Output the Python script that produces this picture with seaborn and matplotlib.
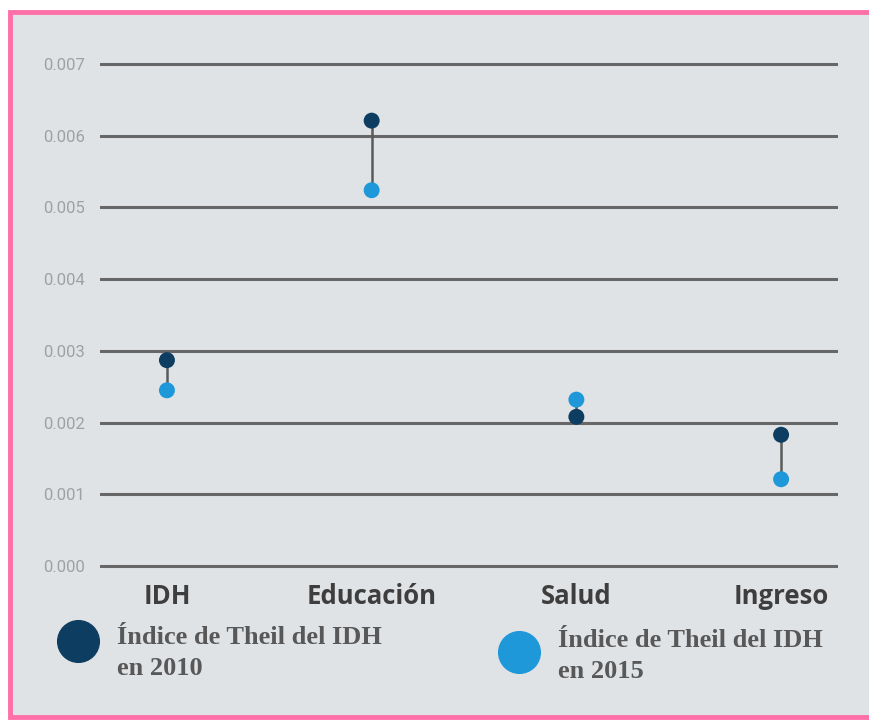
import numpy as np
import pandas as pd
import seaborn as sns
from matplotlib import pyplot as plt
from matplotlib.lines import Line2D
from matplotlib.patches import Rectangle

# data
categorias = ["IDH", "Educación", "Salud", "Ingreso"]
theil_2010 = [0.00287, 0.00621, 0.00208, 0.00183]
theil_2015 = [0.00245, 0.00524, 0.00232, 0.00121]
yticks = [0.000, 0.001, 0.002, 0.003, 0.004, 0.005, 0.006, 0.007]
leyenda_2010 = "Índice de Theil del IDH\nen 2010"
leyenda_2015 = "Índice de Theil del IDH\nen 2015"

c2010 = "#0e3d62"
c2015 = "#1f98d9"
bg = "#e0e3e6"

df = pd.DataFrame({
    "categoria": categorias * 2,
    "valor": theil_2015 + theil_2010,
    "anio": ["2015"] * 4 + ["2010"] * 4,
})

sns.set_style("white")
fig = plt.figure(figsize=(8.69, 7.21), dpi=100)
fig.patch.set_facecolor("white")

# pink frame with grey panel
fig.add_artist(Rectangle((10 / 869, 4 / 721), 1.0, 705 / 721,
                         transform=fig.transFigure, facecolor=bg,
                         edgecolor="#ff6fa8", linewidth=3.5, zorder=0))

# axes placement (pixels -> figure fraction)
pad = 0.00005
px_per = (566 - 64) / 0.007
bot_px = 566 + pad * px_per
top_px = 64 - pad * px_per
ax = fig.add_axes([100 / 869, 1 - bot_px / 721, 738 / 869, (bot_px - top_px) / 721])
ax.set_facecolor("none")

for y in yticks:
    ax.axhline(y, color="#676767", lw=2.2, zorder=1)

idx = np.arange(len(categorias))
ax.vlines(idx, theil_2015, theil_2010, color="#5a5a5a", lw=1.8, zorder=2)

sns.stripplot(data=df, x="categoria", y="valor", hue="anio", order=categorias,
              hue_order=["2015", "2010"], palette={"2010": c2010, "2015": c2015},
              jitter=False, dodge=False, size=11.5, linewidth=0, ax=ax,
              legend=False, zorder=3)

ax.set_xlim(-0.327, 3.278)
ax.set_ylim(-pad, 0.007 + pad)
ax.set_yticks(yticks)
ax.set_yticklabels([f"{v:.3f}" for v in yticks],
                   family=["Roboto", "DejaVu Sans"],
                   fontsize=12, color="#a0a0a0")
ax.set_xticks(idx)
ax.set_xticklabels(categorias, family=["Open Sans", "DejaVu Sans"],
                   fontweight="bold", fontsize=18.5, color="#3e3e3e")
ax.tick_params(axis="y", length=0, pad=11)
ax.tick_params(axis="x", length=0, pad=10)
ax.set_xlabel("")
ax.set_ylabel("")
sns.despine(ax=ax, left=True, bottom=True)

# legend drawn by hand
fig.add_artist(Line2D([78 / 869], [1 - 641 / 721], marker="o", markersize=30,
                      color=c2010, transform=fig.transFigure, linestyle="none"))
fig.add_artist(Line2D([519 / 869], [1 - 652 / 721], marker="o", markersize=30,
                      color=c2015, transform=fig.transFigure, linestyle="none"))
fig.text(117 / 869, 1 - 653 / 721, leyenda_2010, family="Liberation Serif",
         fontweight="bold", fontsize=19, color="#585858", va="center",
         linespacing=1.4)
fig.text(558 / 869, 1 - 656 / 721, leyenda_2015, family="Liberation Serif",
         fontweight="bold", fontsize=19, color="#585858", va="center",
         linespacing=1.4)

fig.savefig("out.png", dpi=100, facecolor=fig.get_facecolor())
